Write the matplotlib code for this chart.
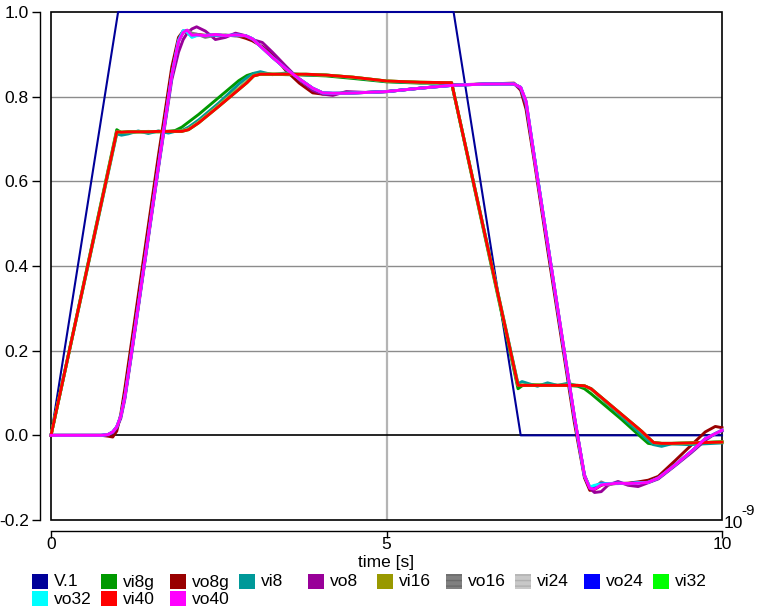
import matplotlib
matplotlib.use("Agg")
import matplotlib.pyplot as plt
from matplotlib.patches import Rectangle

plt.rcParams['font.family'] = ['Liberation Sans', 'DejaVu Sans']

# ---------------- data (time in ns) ----------------
t_v1 = [0, 1, 6, 7, 10]
v_v1 = [0, 1.0, 1.0, 0, 0]

t_vi = [0, 0.98, 1.05, 1.15, 1.3, 1.45, 1.6, 1.75, 1.85, 1.95, 2.05, 2.2, 2.5, 2.8,
        2.92, 3.02, 3.12, 3.3, 3.5, 3.8, 4.1, 4.5, 5.0, 5.5, 5.97, 6.96, 7.02, 7.12,
        7.25, 7.4, 7.55, 7.7, 7.85, 7.95, 8.05, 8.2, 8.5, 8.8, 8.9, 8.98, 9.1, 9.25, 9.5, 10]

vi8g = [0, 0.722, 0.715, 0.716, 0.717, 0.717, 0.717, 0.718, 0.720, 0.728, 0.740, 0.758, 0.798, 0.838,
        0.850, 0.855, 0.855, 0.853, 0.852, 0.851, 0.849, 0.843, 0.835, 0.832, 0.832, 0.110, 0.117, 0.120,
        0.119, 0.119, 0.118, 0.118, 0.116, 0.110, 0.098, 0.078, 0.038, -0.005, -0.019, -0.021, -0.020, -0.020, -0.019, -0.015]
vi8 = [0, 0.712, 0.709, 0.712, 0.719, 0.713, 0.719, 0.714, 0.718, 0.720, 0.728, 0.745, 0.785, 0.830,
       0.845, 0.855, 0.859, 0.852, 0.856, 0.851, 0.851, 0.845, 0.836, 0.833, 0.833, 0.122, 0.127, 0.122,
       0.116, 0.124, 0.118, 0.123, 0.117, 0.116, 0.110, 0.088, 0.045, 0.002, -0.012, -0.022, -0.026, -0.020, -0.022, -0.018]
vi16 = [0, 0.716, 0.716, 0.717, 0.717, 0.718, 0.717, 0.718, 0.718, 0.719, 0.724, 0.740, 0.780, 0.820,
        0.836, 0.850, 0.853, 0.853, 0.853, 0.852, 0.851, 0.846, 0.837, 0.834, 0.833, 0.118, 0.119, 0.118,
        0.119, 0.118, 0.118, 0.119, 0.118, 0.117, 0.109, 0.089, 0.049, 0.009, -0.006, -0.017, -0.019, -0.019, -0.018, -0.016]
vi24 = [0, 0.717, 0.716, 0.717, 0.717, 0.717, 0.718, 0.718, 0.718, 0.718, 0.723, 0.739, 0.778, 0.818,
        0.834, 0.849, 0.853, 0.853, 0.853, 0.853, 0.851, 0.846, 0.837, 0.834, 0.833, 0.118, 0.118, 0.118,
        0.118, 0.118, 0.118, 0.118, 0.118, 0.117, 0.110, 0.090, 0.050, 0.010, -0.005, -0.017, -0.019, -0.019, -0.018, -0.016]
vi32 = [0, 0.717, 0.716, 0.717, 0.717, 0.717, 0.718, 0.718, 0.718, 0.718, 0.722, 0.738, 0.777, 0.817,
        0.833, 0.849, 0.853, 0.853, 0.853, 0.853, 0.851, 0.846, 0.837, 0.834, 0.833, 0.118, 0.118, 0.118,
        0.118, 0.118, 0.118, 0.118, 0.118, 0.117, 0.110, 0.090, 0.050, 0.010, -0.005, -0.017, -0.019, -0.019, -0.018, -0.016]
vi40 = [0, 0.717, 0.716, 0.717, 0.717, 0.717, 0.718, 0.718, 0.718, 0.718, 0.722, 0.738, 0.777, 0.817,
        0.833, 0.849, 0.853, 0.853, 0.853, 0.853, 0.851, 0.846, 0.837, 0.834, 0.833, 0.118, 0.118, 0.118,
        0.118, 0.118, 0.118, 0.118, 0.118, 0.117, 0.110, 0.090, 0.050, 0.010, -0.005, -0.017, -0.019, -0.019, -0.018, -0.016]

t_vo = [0, 0.75, 0.85, 0.92, 0.98, 1.04, 1.1, 1.2, 1.4, 1.6, 1.8, 1.9, 1.97, 2.03, 2.1,
        2.17, 2.3, 2.45, 2.6, 2.75, 2.9, 3.0, 3.15, 3.3, 3.5, 3.7, 3.9, 4.05, 4.2, 4.4,
        4.7, 5.0, 5.5, 6.0, 6.5, 6.9, 7.0, 7.08, 7.2, 7.4, 7.6, 7.8, 7.95, 8.03, 8.1,
        8.2, 8.3, 8.45, 8.6, 8.75, 8.9, 9.05, 9.3, 9.55, 9.75, 9.9, 10]

vo8g = [0, 0, -0.002, -0.004, 0.010, 0.050, 0.110, 0.220, 0.440, 0.660, 0.870, 0.940, 0.955, 0.950, 0.945,
        0.947, 0.945, 0.946, 0.944, 0.945, 0.938, 0.932, 0.918, 0.900, 0.862, 0.832, 0.809, 0.806, 0.807, 0.808,
        0.810, 0.812, 0.820, 0.828, 0.830, 0.832, 0.815, 0.770, 0.650, 0.440, 0.235, 0.030, -0.100, -0.130, -0.128,
        -0.118, -0.114, -0.114, -0.113, -0.110, -0.106, -0.097, -0.060, -0.022, 0.008, 0.021, 0.018]
vo8 = [0, 0, 0.001, 0.006, 0.018, 0.040, 0.085, 0.190, 0.410, 0.630, 0.840, 0.905, 0.935, 0.950, 0.960,
       0.965, 0.955, 0.935, 0.940, 0.950, 0.944, 0.935, 0.928, 0.905, 0.872, 0.840, 0.815, 0.806, 0.803, 0.812,
       0.810, 0.812, 0.820, 0.827, 0.830, 0.830, 0.818, 0.780, 0.660, 0.450, 0.245, 0.042, -0.093, -0.125, -0.135,
       -0.133, -0.118, -0.109, -0.118, -0.121, -0.112, -0.103, -0.072, -0.040, -0.012, 0.004, 0.010]
vo16 = [0, 0, 0.002, 0.008, 0.020, 0.045, 0.090, 0.195, 0.415, 0.635, 0.850, 0.930, 0.952, 0.957, 0.950,
        0.948, 0.940, 0.945, 0.946, 0.943, 0.944, 0.937, 0.915, 0.893, 0.866, 0.842, 0.820, 0.809, 0.808, 0.809,
        0.810, 0.812, 0.820, 0.827, 0.830, 0.830, 0.822, 0.785, 0.660, 0.455, 0.250, 0.045, -0.095, -0.122, -0.124,
        -0.110, -0.117, -0.113, -0.115, -0.112, -0.111, -0.101, -0.070, -0.037, -0.008, 0.004, 0.012]
vo24 = [0, 0, 0.002, 0.008, 0.020, 0.045, 0.090, 0.195, 0.415, 0.635, 0.850, 0.932, 0.955, 0.955, 0.942,
        0.945, 0.944, 0.946, 0.944, 0.946, 0.944, 0.937, 0.915, 0.893, 0.866, 0.842, 0.820, 0.809, 0.808, 0.808,
        0.810, 0.812, 0.820, 0.827, 0.830, 0.830, 0.822, 0.788, 0.662, 0.455, 0.248, 0.043, -0.096, -0.124, -0.120,
        -0.114, -0.114, -0.113, -0.114, -0.112, -0.111, -0.101, -0.070, -0.037, -0.008, 0.004, 0.012]
vo32 = [0, 0, 0.002, 0.008, 0.020, 0.045, 0.090, 0.195, 0.415, 0.635, 0.850, 0.933, 0.956, 0.952, 0.940,
        0.944, 0.945, 0.946, 0.944, 0.946, 0.944, 0.937, 0.915, 0.893, 0.866, 0.842, 0.820, 0.809, 0.808, 0.808,
        0.810, 0.812, 0.820, 0.827, 0.830, 0.830, 0.822, 0.788, 0.662, 0.455, 0.248, 0.043, -0.096, -0.122, -0.118,
        -0.115, -0.114, -0.113, -0.114, -0.112, -0.111, -0.101, -0.070, -0.037, -0.008, 0.004, 0.012]
vo40 = [0, 0, 0.002, 0.008, 0.020, 0.045, 0.090, 0.195, 0.415, 0.635, 0.850, 0.930, 0.952, 0.957, 0.945,
        0.946, 0.944, 0.947, 0.944, 0.946, 0.944, 0.937, 0.915, 0.893, 0.866, 0.842, 0.820, 0.809, 0.808, 0.808,
        0.810, 0.812, 0.820, 0.827, 0.830, 0.830, 0.822, 0.790, 0.660, 0.455, 0.250, 0.045, -0.095, -0.125, -0.127,
        -0.117, -0.115, -0.113, -0.114, -0.113, -0.111, -0.101, -0.070, -0.037, -0.008, 0.004, 0.012]

names = ['V.1', 'vi8g', 'vo8g', 'vi8', 'vo8', 'vi16', 'vo16', 'vi24', 'vo24', 'vi32', 'vo32', 'vi40', 'vo40']
colors = ['#000099', '#009900', '#990000', '#009999', '#990099', '#999900', '#808080',
          '#c8c8c8', '#0000ff', '#00ff00', '#00ffff', '#ff0000', '#ff00ff']

series = [(t_v1, v_v1), (t_vi, vi8g), (t_vo, vo8g), (t_vi, vi8), (t_vo, vo8), (t_vi, vi16), (t_vo, vo16),
          (t_vi, vi24), (t_vo, vo24), (t_vi, vi32), (t_vo, vo32), (t_vi, vi40), (t_vo, vo40)]

yticks = [-0.2, 0.0, 0.2, 0.4, 0.6, 0.8, 1.0]
ytick_labels = ['-0.2', '0.0', '0.2', '0.4', '0.6', '0.8', '1.0']
xticks = [0, 5, 10]
xtick_labels = ['0', '5', '10']

# ---------------- figure ----------------
W, H = 759, 607
fig = plt.figure(figsize=(W / 100, H / 100), dpi=100)
ax = fig.add_axes([51 / W, 1 - 520 / H, 671 / W, 508 / H])
ax.set_xlim(0, 10)
ax.set_ylim(-0.2, 1.0)

for y in [0.2, 0.4, 0.6, 0.8]:
    ax.axhline(y, color='#8c8c8c', lw=1.0, zorder=1)
ax.axvline(5, color='#b4b4b4', lw=1.6, zorder=1)
ax.axhline(0, color='black', lw=1.2, zorder=1.2)

ax.add_patch(Rectangle((0, 0), 1, 1, transform=ax.transAxes, fill=False,
                       ec='black', lw=1.2, zorder=1.5, clip_on=False))

for i, ((tt, vv), c) in enumerate(zip(series, colors)):
    lw = 1.5 if i == 0 else 2.1
    ax.plot(tt, vv, color=c, lw=lw, zorder=2 + i * 0.01, clip_on=False,
            solid_joinstyle='round')

for s in ['top', 'right']:
    ax.spines[s].set_visible(False)
ax.spines['left'].set_position(('outward', 8))
ax.spines['bottom'].set_position(('outward', 8))
ax.spines['left'].set_linewidth(1.0)
ax.spines['bottom'].set_linewidth(1.0)

ax.set_yticks(yticks)
ax.set_yticklabels(ytick_labels)
ax.set_xticks(xticks)
ax.set_xticklabels(xtick_labels)
ax.tick_params(axis='y', direction='out', length=6, width=1, pad=2, labelsize=12.5, colors='black')
ax.tick_params(axis='x', direction='out', length=5, width=1, pad=-1, labelsize=12.5, colors='black')

fig.text(386 / W, 1 - 562 / H, 'time [s]', ha='center', va='center', fontsize=12.5)
fig.text(724 / W, 1 - 523 / H, '10', ha='left', va='center', fontsize=12.5)
fig.text(741 / W, 1 - 511 / H, '-9', ha='left', va='center', fontsize=11)

# ---------------- legend ----------------
for i, (nm, c) in enumerate(zip(names, colors)):
    row, col = divmod(i, 10)
    x0 = 32 + col * 69.0
    y0 = 574 + row * 17
    if nm == 'vo16':
        kw = dict(hatch='---', edgecolor='#6a6a6a')
    elif nm == 'vi24':
        kw = dict(hatch='---', edgecolor='#b0b0b0')
    else:
        kw = dict(edgecolor='none')
    r = Rectangle((x0 / W, 1 - (y0 + 15) / H), 16 / W, 15 / H, transform=fig.transFigure,
                  facecolor=c, lw=0, **kw)
    fig.patches.append(r)
    fig.text((x0 + 22) / W, 1 - (y0 + 8) / H, nm, ha='left', va='center', fontsize=12.5)

fig.savefig('out.png', dpi=100)
